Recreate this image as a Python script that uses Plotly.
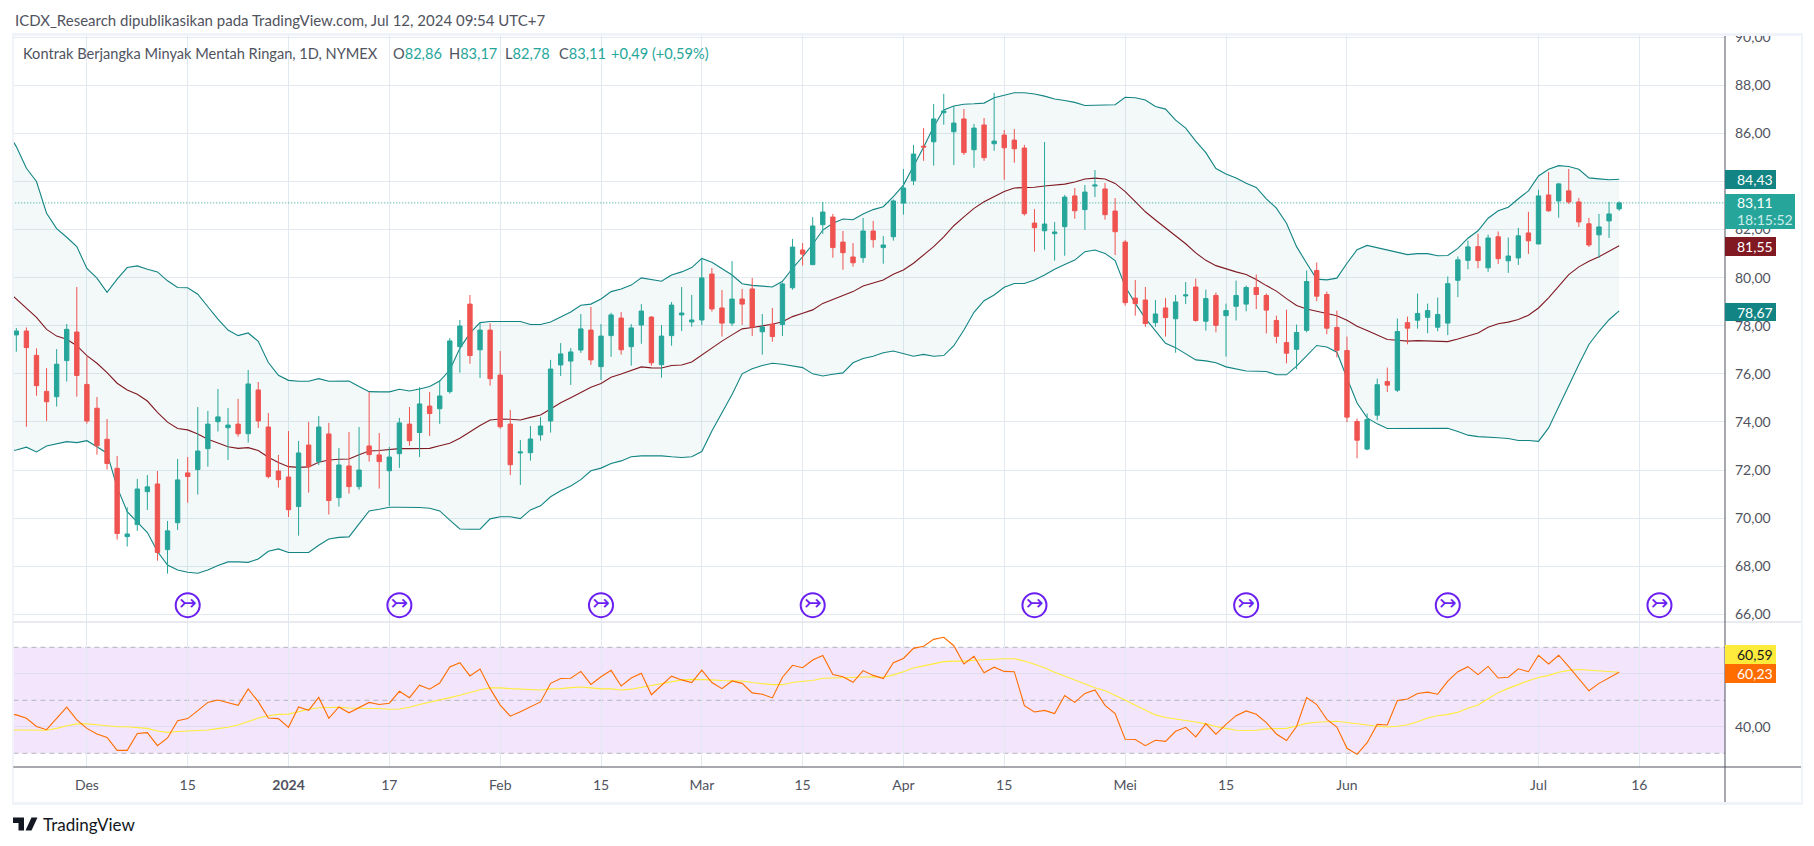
import plotly.graph_objects as go

# ---------- chart values ----------
open_ = [77.62,77.78,76.77,75.27,75.05,76.55,77.74,75.56,74.57,73.28,
72.07,69.23,69.73,71.10,71.42,68.69,69.81,71.88,72.02,72.89,
74.01,73.76,73.91,73.51,75.33,73.79,71.96,71.71,70.48,73.04,
72.35,73.50,70.85,72.17,71.31,73.00,72.63,71.97,72.68,73.91,
73.56,74.66,74.55,75.26,77.13,78.90,77.00,77.82,75.95,73.91,
72.71,72.72,73.46,74.04,76.37,76.53,76.99,77.82,76.30,77.59,
78.32,77.13,78.03,78.36,76.38,77.59,78.45,78.16,78.24,80.15,
78.74,78.11,79.11,79.53,77.75,78.07,78.05,79.58,81.15,80.54,
82.20,82.52,81.48,80.86,80.83,81.94,81.25,81.70,83.10,84.03,
85.47,85.65,86.86,86.07,86.60,85.32,86.35,85.57,85.93,85.72,
85.39,82.27,81.95,81.83,82.12,83.40,82.83,83.81,83.69,82.77,
81.48,79.15,79.07,78.13,78.74,78.29,79.24,79.61,78.19,79.26,
78.42,78.81,78.90,79.59,79.26,78.22,77.30,77.02,77.81,80.30,
79.30,77.93,76.97,74.02,72.87,74.28,75.68,75.32,78.13,78.23,
78.35,77.94,78.11,79.89,80.72,81.29,80.41,81.70,80.70,80.82,
81.86,81.40,83.44,83.19,83.61,83.15,82.24,81.78,82.36,82.86]

high = [77.91,77.93,77.06,76.24,77.03,78.07,79.61,76.72,75.04,74.12,
72.58,70.45,71.63,71.79,71.96,69.88,72.46,72.54,74.62,74.46,
75.37,74.58,74.96,76.16,75.66,74.37,72.63,73.62,73.21,74.00,
74.25,73.96,72.92,73.58,73.79,75.25,73.54,72.96,74.17,74.62,
75.45,75.25,75.74,77.49,78.24,79.28,78.13,78.10,76.95,74.50,
73.25,73.83,74.20,76.58,77.28,77.07,78.49,78.78,78.07,78.54,
78.57,78.07,78.90,78.40,78.03,78.99,79.61,79.28,80.82,80.40,
79.49,80.69,79.53,79.99,78.49,78.74,79.80,81.61,81.44,82.52,
83.15,82.65,81.94,81.44,82.48,82.36,81.73,83.25,84.52,85.52,
86.22,87.22,87.64,87.14,87.01,86.39,86.64,87.68,86.14,86.18,
85.52,82.85,85.64,82.31,83.44,83.73,83.85,84.48,83.94,83.31,
81.56,79.90,79.61,79.07,79.15,79.28,79.82,79.96,79.50,79.38,
78.92,79.88,79.67,80.13,79.34,78.42,78.67,78.05,80.30,80.63,
79.42,78.63,77.55,74.14,74.35,75.80,76.26,78.30,78.38,79.34,
78.92,79.17,80.05,80.88,81.54,81.83,81.79,81.92,81.67,82.07,
82.74,83.65,84.40,83.94,84.52,83.32,82.49,82.65,83.15,83.17]

low = [76.92,73.80,75.09,74.04,74.64,75.68,75.05,73.93,72.64,72.02,
69.11,68.82,69.47,70.34,68.23,67.69,69.51,70.64,70.98,72.14,
73.60,72.42,73.39,73.14,73.75,71.65,71.27,70.05,69.27,71.06,
72.21,70.15,70.48,71.02,71.18,72.35,71.23,70.51,72.09,73.01,
72.54,73.42,73.92,75.18,76.05,76.42,75.83,75.51,73.72,71.79,
71.38,72.39,73.22,73.56,75.91,75.54,76.87,76.37,75.74,76.71,
76.80,76.34,77.25,76.34,75.84,77.17,77.78,77.96,78.03,78.59,
77.55,77.99,78.03,77.57,76.80,77.34,77.57,79.50,80.50,80.54,
81.82,80.83,80.33,80.46,80.62,81.25,80.58,81.54,82.62,83.85,
84.86,84.66,86.36,84.68,85.10,84.57,84.86,85.28,84.07,84.78,
82.58,81.08,81.16,80.71,80.91,82.45,81.99,83.35,82.41,80.94,
78.84,78.42,77.96,77.96,77.55,76.88,78.90,78.17,77.80,77.73,
76.72,78.22,78.60,78.69,77.68,77.27,76.44,76.19,77.73,79.02,
77.65,76.69,73.99,72.49,72.82,74.07,75.24,75.24,77.23,77.88,
77.69,77.77,77.61,79.19,80.35,80.39,80.24,80.57,80.20,80.53,
80.99,81.40,82.74,82.49,83.07,82.11,81.28,80.82,81.65,82.78]

close = [77.78,77.09,75.51,74.84,76.40,77.85,75.93,74.04,73.01,72.27,
69.36,69.34,71.21,71.30,68.57,69.47,71.59,71.73,72.79,73.91,
74.21,73.87,73.51,75.58,74.04,71.73,71.60,70.35,72.71,72.14,
73.79,70.73,72.21,71.31,72.00,72.64,72.35,72.54,73.96,73.22,
74.75,74.35,75.08,77.37,77.99,76.76,77.82,75.80,73.80,72.22,
72.75,73.29,73.83,76.20,76.83,76.91,77.87,76.58,77.57,78.45,
77.00,77.91,78.61,76.46,77.57,78.86,78.53,78.24,79.99,78.70,
78.11,79.11,78.90,77.95,77.95,77.55,79.74,81.27,80.98,82.15,
82.73,81.25,81.04,80.62,81.94,81.58,81.36,83.19,83.73,85.14,
85.43,86.60,86.93,86.43,85.20,86.22,84.99,85.68,85.40,85.36,
82.66,82.08,82.23,81.90,83.35,82.78,83.56,83.85,82.62,81.91,
78.96,78.92,78.09,78.49,78.34,78.99,79.28,78.22,79.13,78.02,
78.63,79.26,79.59,79.30,78.65,77.56,76.86,77.72,79.84,79.23,
77.90,76.98,74.20,73.24,74.10,75.55,75.53,77.76,77.90,78.51,
78.63,78.47,79.75,80.74,81.28,80.71,81.65,80.79,80.90,81.74,
81.53,83.40,82.78,83.90,83.15,82.32,81.36,82.11,82.65,83.11]

# Bollinger series start one bar before the first candle (line enters from the pane edge)
bb_upper = [86.14,85.45,84.55,84.00,82.68,82.04,81.68,81.29,80.38,79.98,79.39,
79.94,80.42,80.49,80.35,80.24,79.87,79.59,79.58,79.31,78.79,
78.28,77.82,77.59,77.70,77.35,76.47,75.94,75.73,75.69,75.69,
75.80,75.69,75.70,75.70,75.47,75.26,75.25,75.25,75.36,75.29,
75.37,75.47,75.70,76.16,77.06,77.69,78.13,78.18,78.18,78.18,
78.18,78.05,78.05,78.16,78.35,78.57,78.85,78.90,79.11,79.42,
79.53,79.69,79.99,79.92,79.85,80.11,80.24,80.42,80.80,80.64,
80.39,80.11,79.75,79.68,79.65,79.61,79.85,80.39,80.87,81.39,
81.98,82.26,82.44,82.41,82.65,82.83,82.95,83.37,83.85,84.61,
85.42,86.28,86.97,87.14,87.21,87.23,87.26,87.48,87.57,87.69,
87.69,87.64,87.55,87.43,87.37,87.29,87.16,87.16,87.19,87.19,
87.50,87.48,87.39,87.12,87.01,86.55,86.22,85.68,85.20,84.54,
84.31,84.14,83.93,83.75,83.28,82.89,82.26,81.29,80.60,79.94,
79.91,79.98,80.60,81.16,81.34,81.25,81.13,81.07,80.96,81.00,
81.00,80.91,80.92,81.22,81.64,81.95,82.47,82.78,82.93,83.28,
83.61,84.23,84.51,84.66,84.62,84.51,84.15,84.11,84.07,84.09]

bb_basis = [79.49,79.11,78.72,78.35,77.85,77.57,77.44,77.17,76.76,76.44,76.05,
75.61,75.33,75.15,74.87,74.40,73.99,73.73,73.67,73.50,73.28,
73.11,72.97,72.90,72.93,72.81,72.53,72.31,72.14,72.11,72.13,
72.32,72.42,72.45,72.46,72.64,72.79,72.81,72.86,72.89,72.89,
72.89,72.90,73.01,73.11,73.32,73.60,73.85,74.08,74.12,74.11,
74.08,74.19,74.29,74.54,74.80,75.01,75.23,75.44,75.60,75.86,
75.99,76.15,76.29,76.25,76.24,76.35,76.37,76.49,76.78,77.08,
77.36,77.62,77.87,77.93,77.99,78.06,78.17,78.38,78.52,78.66,
78.93,79.10,79.24,79.42,79.65,79.76,79.90,80.14,80.32,80.60,
80.94,81.29,81.70,82.16,82.53,82.88,83.16,83.37,83.58,83.73,
83.73,83.76,83.81,83.85,83.89,83.98,84.10,84.14,84.10,83.92,
83.58,83.16,82.74,82.40,82.08,81.75,81.41,81.03,80.72,80.50,
80.36,80.24,80.13,79.92,79.67,79.44,79.13,78.84,78.70,78.60,
78.53,78.42,78.23,77.98,77.80,77.62,77.43,77.40,77.36,77.38,
77.36,77.33,77.34,77.45,77.56,77.70,77.94,78.08,78.15,78.26,
78.44,78.74,79.16,79.64,80.13,80.45,80.68,80.87,81.09,81.33]

bb_lower = [72.79,72.83,72.95,72.75,73.00,73.08,73.18,73.14,73.22,72.97,72.70,
71.28,70.27,69.83,69.40,68.61,68.05,67.84,67.75,67.71,67.84,
68.03,68.18,68.18,68.16,68.30,68.62,68.72,68.57,68.57,68.57,
68.87,69.13,69.20,69.22,69.76,70.30,70.37,70.45,70.45,70.45,
70.44,70.41,70.30,69.92,69.55,69.54,69.54,69.97,70.06,70.06,
69.98,70.34,70.51,70.89,71.14,71.34,71.60,71.97,72.08,72.27,
72.38,72.55,72.59,72.59,72.59,72.55,72.52,72.55,72.77,73.62,
74.38,75.14,76.00,76.21,76.35,76.44,76.40,76.34,76.26,76.00,
75.91,75.98,76.04,76.46,76.64,76.73,76.88,76.95,76.83,76.73,
76.81,76.73,76.76,77.17,77.82,78.56,79.04,79.28,79.60,79.76,
79.76,79.90,80.11,80.35,80.55,80.73,81.08,81.15,81.01,80.71,
79.63,78.93,78.31,77.80,77.27,77.09,76.85,76.58,76.54,76.46,
76.29,76.19,76.12,76.11,76.10,75.96,75.96,76.32,76.73,77.18,
77.12,76.90,75.83,74.79,74.17,73.92,73.73,73.73,73.73,73.73,
73.74,73.74,73.74,73.60,73.45,73.39,73.35,73.34,73.31,73.23,
73.23,73.19,73.75,74.65,75.55,76.39,77.22,77.77,78.25,78.62]

rsi = [45.1,44.5,43.2,40.1,38.9,43.2,47.4,42.6,39.4,37.3,36.0,
31.1,31.1,37.5,37.8,32.9,35.8,42.3,43.1,46.1,49.2,
50.1,49.1,48.1,54.3,49.5,43.3,43.1,39.8,47.5,46.2,
51.1,43.2,47.5,45.3,47.2,49.2,48.4,48.9,53.4,51.0,
55.7,54.2,56.5,62.6,64.2,59.2,61.8,54.4,48.2,44.0,
45.7,47.5,49.4,56.4,58.2,58.3,60.9,56.0,58.9,61.3,
55.4,58.4,60.2,52.1,55.5,59.1,57.7,56.7,61.4,56.7,
54.4,57.3,56.4,52.8,52.3,50.9,58.7,63.2,62.3,65.2,
66.9,59.7,58.9,56.8,61.2,59.4,58.2,64.2,65.8,69.6,
70.4,73.0,73.8,70.6,63.7,66.6,60.4,62.5,60.9,60.8,
48.0,45.6,46.2,45.0,51.8,49.2,52.6,53.9,48.1,45.0,
35.3,35.2,32.9,34.9,34.5,38.3,39.8,36.2,41.2,37.2,
40.9,44.2,46.0,44.7,41.6,37.3,34.8,40.1,51.0,48.4,
42.8,39.9,31.9,29.6,34.0,40.9,40.7,49.9,50.5,52.6,
53.1,52.3,57.2,60.8,62.7,59.7,62.8,58.4,58.7,61.9,
60.8,67.0,63.7,67.0,62.7,58.3,53.6,56.4,58.6,60.6]

rsi_ma = [38.8,38.8,38.8,38.8,38.7,39.4,40.4,41.1,41.1,40.8,40.4,
40.0,40.0,39.8,39.4,38.4,37.9,38.2,38.4,38.5,38.8,
39.3,39.8,40.7,41.9,43.3,44.2,44.7,44.8,45.8,46.6,
47.2,47.4,47.4,47.1,46.9,46.9,46.9,46.6,46.7,47.4,
48.4,49.2,50.0,51.0,51.9,52.9,54.0,54.7,54.7,54.4,
54.3,54.2,53.9,54.3,54.4,54.8,55.0,54.7,54.3,54.3,
53.9,54.2,54.9,55.7,56.4,57.2,57.7,57.9,57.9,57.7,
57.5,57.5,57.3,56.7,56.4,55.9,55.9,56.7,57.2,57.5,
58.3,58.4,58.4,58.6,58.8,58.9,58.7,59.6,60.8,62.2,
63.0,63.7,64.6,64.8,64.8,65.1,65.3,65.7,65.7,65.7,
64.8,63.6,62.3,60.6,59.1,57.4,55.9,54.7,53.6,52.0,
50.1,48.1,46.4,44.5,43.5,43.0,42.5,41.8,41.1,40.1,
39.4,38.7,38.6,38.7,39.2,39.3,39.4,40.3,41.3,41.7,
41.8,42.1,41.6,41.1,40.6,40.2,39.9,40.2,40.8,41.9,
43.3,44.2,44.7,45.5,47.0,48.2,50.6,52.9,54.5,56.0,
57.4,58.6,59.4,60.6,61.3,61.6,61.3,61.1,60.8,60.6]

date_tick_bars = [7,17,27,37,48,58,68,78,88,98,110,120,132,151,161]
date_tick_text = ["Des","15","<b>2024</b>","17","Feb","15","Mar","15","Apr","15","Mei","15","Jun","Jul","16"]
price_ticks = [66,68,70,72,74,76,78,80,82,84,86,88,90]
price_tick_text = ["66,00","68,00","70,00","72,00","74,00","76,00","78,00","80,00","82,00","84,00","86,00","88,00","90,00"]
rsi_ticks = [40,60]
rsi_tick_text = ["40,00","60,00"]
rsi_levels = [30,50,70]
event_bars = [17,38,58,79,101,122,142,163]
event_price = 66.38
last_close = 83.11

bars = list(range(len(close)))
overlay_bars = list(range(-1, len(close)))
assert len(open_) == len(high) == len(low) == len(close) == 160
assert all(len(s) == 161 for s in (bb_upper, bb_basis, bb_lower, rsi, rsi_ma))

# ---------- styling ----------
W, H = 1814, 846
FONT = "Lato, 'Noto Sans', sans-serif"
GRID = "#E2E9F0"
UP, DOWN = "#26A69A", "#EF5350"
BAND = "#138484"
BASIS = "#801922"
TXT = "#50535E"
FRAME = "#F0F3FA"
X0, X1 = 13.4, 1725
LW = 1.1
fx = lambda p: p / W
fy = lambda p: 1 - p / H

fig = go.Figure()

fig.add_trace(go.Scatter(x=overlay_bars, y=bb_lower, mode="lines", line=dict(color=BAND, width=LW), xaxis="x", yaxis="y", hoverinfo="skip"))
fig.add_trace(go.Scatter(x=overlay_bars, y=bb_upper, mode="lines", line=dict(color=BAND, width=LW), fill="tonexty",
                         fillcolor="rgba(19,132,132,0.05)", xaxis="x", yaxis="y", hoverinfo="skip"))
fig.add_trace(go.Scatter(x=overlay_bars, y=bb_basis, mode="lines", line=dict(color=BASIS, width=LW), xaxis="x", yaxis="y", hoverinfo="skip"))
fig.add_trace(go.Scatter(x=[-1, 175], y=[last_close, last_close], mode="lines", line=dict(color=UP, width=1, dash="1px,2px"), xaxis="x", yaxis="y", hoverinfo="skip"))

fig.add_trace(go.Candlestick(x=bars, open=open_, high=high, low=low, close=close, xaxis="x", yaxis="y3", whiskerwidth=0,
    increasing=dict(line=dict(color=UP, width=1), fillcolor=UP),
    decreasing=dict(line=dict(color=DOWN, width=1), fillcolor=DOWN), hoverinfo="skip"))

fig.add_trace(go.Scatter(x=event_bars, y=[event_price] * len(event_bars), mode="markers+text", text=["↣"] * len(event_bars),
    textposition="middle center", textfont=dict(family="DejaVu Sans", size=21, color="#6A1FF0"),
    marker=dict(symbol="circle-open", size=24, color="#6A1FF0", line=dict(width=2, color="#6A1FF0")),
    cliponaxis=False, xaxis="x", yaxis="y3", hoverinfo="skip"))

fig.add_trace(go.Scatter(x=overlay_bars, y=rsi_ma, mode="lines", line=dict(color="#FFEB3B", width=LW), xaxis="x", yaxis="y2", hoverinfo="skip"))
fig.add_trace(go.Scatter(x=overlay_bars, y=rsi, mode="lines", line=dict(color="#FF6D00", width=LW), xaxis="x", yaxis="y2", hoverinfo="skip"))

shapes = []
def rect(x0, y0, x1, y1, color, layer="above"):
    shapes.append(dict(type="rect", xref="paper", yref="paper", x0=fx(x0), x1=fx(x1), y0=fy(y1), y1=fy(y0),
                       fillcolor=color, line=dict(width=0), layer=layer))
def hline(y, x0, x1, color, width=1):
    shapes.append(dict(type="line", xref="paper", yref="paper", x0=fx(x0), x1=fx(x1), y0=fy(y), y1=fy(y), line=dict(color=color, width=width), layer="above"))
def vline(x, y0, y1, color, width=1):
    shapes.append(dict(type="line", xref="paper", yref="paper", x0=fx(x), x1=fx(x), y0=fy(y0), y1=fy(y1), line=dict(color=color, width=width), layer="above"))

# RSI band + dashed levels
shapes.append(dict(type="rect", xref="paper", yref="y2", x0=fx(X0), x1=fx(X1), y0=30, y1=70, fillcolor="#F3E6FC", line=dict(width=0), layer="below"))
for lv in rsi_levels:
    shapes.append(dict(type="line", xref="paper", yref="y2", x0=fx(X0), x1=fx(X1), y0=lv, y1=lv,
                       line=dict(color="#B2B5BE", width=1, dash="5px,4px"), layer="below"))

# frame
rect(0, 0, W, 33, "#FFFFFF")
rect(12, 33, 1803, 36, FRAME)
rect(12, 33, 14, 805, FRAME)
rect(1801, 33, 1803, 805, FRAME)
rect(12, 802, 1803, 805, FRAME)
hline(622, X0, 1801, "#E0E3EB", 1.5)
hline(767, X0, 1801, "#50535E", 1)
vline(X1, 36, 802, "#50535E", 1)

# price labels on the scale
def tag(y0, y1, color, right=1776):
    rect(X1, y0, right, y1, color)
tag(170, 189, BAND)
tag(194, 229, UP, 1795)
tag(237, 256, BASIS)
tag(303, 321, BAND)
tag(645, 664, "#FFEB3B")
tag(664, 683, "#FF6D00")

# logo
lx = lambda v: f"{fx(v):.5f}"
ly = lambda v: f"{fy(v):.5f}"
logo_t = f"M{lx(13)},{ly(817.5)} L{lx(24)},{ly(817.5)} L{lx(24)},{ly(830.5)} L{lx(18.5)},{ly(830.5)} L{lx(18.5)},{ly(823)} L{lx(13)},{ly(823)} Z"
logo_s = f"M{lx(31.5)},{ly(817.5)} L{lx(37.5)},{ly(817.5)} L{lx(31.5)},{ly(830.5)} L{lx(25.5)},{ly(830.5)} Z"
logo_d = f"M{lx(24.5)},{ly(820)} a{1.8/W:.5f},{1.8/H:.5f} 0 1 1 {4/W:.5f},0 a{1.8/W:.5f},{1.8/H:.5f} 0 1 1 {-4/W:.5f},0 Z"
for p in (logo_t, logo_s, logo_d):
    shapes.append(dict(type="path", xref="paper", yref="paper", path=p, fillcolor="#131722", line=dict(width=0), layer="above"))

anns = []
def txt(x, y, s, color=TXT, size=14, anchor="left", family=FONT):
    anns.append(dict(xref="paper", yref="paper", x=fx(x), y=fy(y), text=s, showarrow=False, xanchor=anchor, yanchor="middle",
                     font=dict(family=family, size=size, color=color), align=anchor))

txt(13, 20, "ICDX_Research dipublikasikan pada TradingView.com, Jul 12, 2024 09:54 UTC+7", "#50535E", 15)
txt(21, 53.5, "Kontrak Berjangka Minyak Mentah Ringan, 1D, NYMEX", "#50535E", 14.6)
TEAL = "#26A69A"
for x, lab, val in [(391, "O", "82,86"), (447, "H", "83,17"), (503, "L", "82,78"), (557, "C", "83,11")]:
    txt(x, 53.5, f'{lab}<span style="color:{TEAL}">{val}</span>', "#50535E", 14.6)
txt(609, 53.5, "+0,49 (+0,59%)", TEAL, 14.6)

txt(1735, 179.5, "84,43", "#FFFFFF", 14)
txt(1735, 202.5, "83,11", "#FFFFFF", 14)
txt(1735, 219.5, "18:15:52", "#CDEDEA", 14)
txt(1735, 246.5, "81,55", "#FFFFFF", 14)
txt(1735, 312, "78,67", "#FFFFFF", 14)
txt(1735, 654.5, "60,59", "#131722", 14)
txt(1735, 673.5, "60,23", "#FFFFFF", 14)
txt(41, 824, "TradingView", "#131722", 17)

axfont = dict(family=FONT, size=14, color=TXT)
pr = [65.68, 90.05]
fig.update_layout(
    width=W, height=H, autosize=False, margin=dict(l=0, r=0, t=0, b=0),
    paper_bgcolor="#FFFFFF", plot_bgcolor="#FFFFFF", showlegend=False, boxgap=0.38,
    hovermode=False, shapes=shapes, annotations=anns,
    xaxis=dict(domain=[fx(X0), fx(X1)], range=[-0.29, 169.5], anchor="y2", tickmode="array", tickvals=date_tick_bars,
               ticktext=date_tick_text, showgrid=True, gridcolor=GRID, gridwidth=1, zeroline=False, showline=False,
               ticks="", tickfont=axfont, ticklabelstandoff=8, rangeslider=dict(visible=False), tickangle=0, automargin=False),
    yaxis=dict(domain=[fy(622), fy(36)], range=pr, side="right", anchor="x", tickmode="array", tickvals=price_ticks,
               ticktext=price_tick_text, showgrid=True, gridcolor=GRID, zeroline=False, showline=False, ticks="",
               tickfont=axfont, ticklabelstandoff=9, automargin=False),
    yaxis2=dict(domain=[fy(767), fy(622)], range=[24.83, 79.55], side="right", anchor="x", tickmode="array", tickvals=rsi_ticks,
                ticktext=rsi_tick_text, showgrid=True, gridcolor="#E0DDF3", zeroline=False, showline=False, ticks="",
                tickfont=axfont, ticklabelstandoff=9, automargin=False),
    yaxis3=dict(overlaying="y", range=pr, side="right", anchor="x", visible=False, showgrid=False, zeroline=False, automargin=False),
)

fig.write_html("out.html", config={"displayModeBar": False, "staticPlot": True},
               post_script="document.body.style.margin='0';document.documentElement.style.overflow='hidden';")
